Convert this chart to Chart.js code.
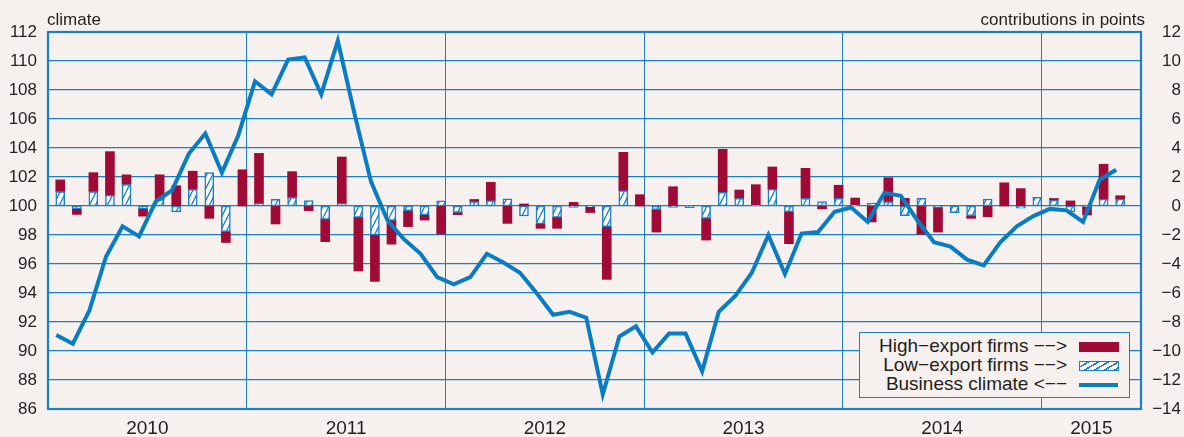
<!DOCTYPE html>
<html>
<head>
<meta charset="utf-8">
<script src="https://cdn.jsdelivr.net/npm/chart.js@4"></script>
<style>
  body { margin: 0; background: #f6f0ee; }
  #wrap { position: relative; width: 1184px; height: 437px; font-family: 'Liberation Sans', Arial, sans-serif; color: #231f20; }
  .axisTitle { position: absolute; top: 11px; font-size: 17px; line-height: 17px; white-space: nowrap; }
  #legendBox { position: absolute; left: 859px; top: 332px; width: 271px; height: 66px; box-sizing: border-box;
               border: 1.3px solid #1b7fc4; background: #f6f0ee; }
  .legText { position: absolute; right: 117px; font-size: 19px; line-height: 19px; white-space: nowrap; }
  .sw { position: absolute; left: 1079px; width: 40px; box-sizing: border-box; }
</style>
</head>
<body>
<div id="wrap">
  <canvas id="chart" width="1184" height="437"></canvas>
  <div class="axisTitle" style="left:47px">climate</div>
  <div class="axisTitle" style="right:39px">contributions in points</div>
  <div id="legendBox"></div>
  <div class="legText" style="top:336px">High&minus;export firms &minus;&minus;&gt;</div>
  <div class="legText" style="top:355px">Low&minus;export firms &minus;&minus;&gt;</div>
  <div class="legText" style="top:374px">Business climate &lt;&minus;&minus;</div>
  <div class="sw" style="top:342px;height:10px;background:#a00a37"></div>
  <div class="sw" style="top:361px;height:10px;border:1.5px solid #1b7fc4;background:repeating-linear-gradient(150deg,#fff 0 3.5px,#1b7fc4 3.5px 5px)"></div>
  <div class="sw" style="top:382.5px;height:4px;width:39px;background:#0a7dc2"></div>
</div>
<script>
// monthly, Jan 2010 .. May 2015
const years = ['2010', '2011', '2012', '2013', '2014', '2015'];

const climate = [
  91.1, 90.5, 92.8, 96.5, 98.6, 97.9, 100.3, 101.1, 103.6, 105.0, 102.3, 104.9,
  108.6, 107.7, 110.1, 110.25, 107.7, 111.4, 106.4, 101.7, 99.0, 97.7, 96.7, 95.1,
  94.6, 95.1, 96.7, 96.1, 95.4, 94.0, 92.5, 92.7, 92.3, 87.0, 91.0, 91.7,
  89.9, 91.2, 91.2, 88.6, 92.7, 93.8, 95.4, 98.0, 95.3, 98.1, 98.2, 99.6,
  99.9, 98.9, 100.9, 100.7, 99.0, 97.5, 97.2, 96.3, 95.9, 97.5, 98.6, 99.3,
  99.8, 99.7, 98.9, 101.8, 102.5
];

const lowExport = [
  1.0, -0.2, 1.0, 0.75, 1.5, -0.2, 0.45, -0.4, 1.15, 2.3, -1.77, 0.0,
  0.18, 0.46, 0.6, 0.37, -0.92, 0.18, -0.78, -2.0, -1.0, -0.32, -0.62, 0.35,
  -0.45, 0.3, 0.37, 0.5, -0.69, -1.24, -0.78, -0.1, -0.05, -1.43, 1.06, 0.0,
  -0.25, -0.1, -0.1, -0.85, 0.94, 0.53, 0.07, 1.17, -0.4, 0.53, 0.3, 0.53,
  0.05, 0.2, 0.3, -0.67, 0.53, -0.1, -0.46, -0.67, 0.48, 0.0, -0.15, 0.6,
  0.4, -0.4, -0.05, 0.48, 0.48
];

const highExport = [
  0.8, -0.38, 1.3, 3.0, 0.65, -0.5, 1.7, 1.4, 1.25, -0.85, -0.75, 2.5,
  3.45, -1.24, 1.77, -0.32, -1.54, 3.2, -3.7, -3.2, -1.63, -1.1, -0.35, -1.93,
  -0.15, 0.15, 1.26, -1.2, 0.14, -0.3, -0.76, 0.25, -0.4, -3.63, 2.64, 0.78,
  -1.55, 1.33, 0.0, -1.5, 2.97, 0.57, 1.4, 1.52, -2.2, 2.07, -0.2, 0.9,
  0.5, -1.1, 1.65, 0.53, -1.95, -1.7, 0.0, -0.18, -0.74, 1.6, 1.2, 0.0,
  0.12, 0.35, -0.57, 2.4, 0.23
];

const leftTicks = [86, 112];
const rightTicks = [-14, 12];

const BLUE = '#0a7dc2';
const GRID = '#1b7fc4';
const RED = '#a00a37';
const TXT = '#231f20';
const BAR_SHIFT = 0.24; // bars sit a little right of the month point

Chart.defaults.font.family = "'Liberation Sans', Arial, sans-serif";
Chart.defaults.color = TXT;

const xMax = climate.length + 0.5;
const yearEdges = years.slice(1).map((y, k) => (k + 1) * 12 - 0.5);
const yearCenters = years.map((y, k) => (k * 12 - 0.5 + Math.min(k * 12 + 11.5, xMax)) / 2);

function makeHatch() {
  const c = document.createElement('canvas');
  c.width = 6; c.height = 12;
  const g = c.getContext('2d');
  g.fillStyle = '#fff';
  g.fillRect(0, 0, 6, 12);
  g.strokeStyle = GRID;
  g.lineWidth = 1.3;
  g.beginPath();
  [-6, 0, 6].forEach(dx => { g.moveTo(dx, 12); g.lineTo(dx + 6, 0); });
  g.stroke();
  return g.createPattern(c, 'repeat');
}

const frame = {
  id: 'frame',
  beforeDatasetsDraw(chart) {
    const { ctx, chartArea: a } = chart;
    ctx.save();
    ctx.strokeStyle = GRID;
    ctx.lineWidth = 2.2;
    ctx.strokeRect(a.left, a.top, a.right - a.left, a.bottom - a.top);
    ctx.restore();
  }
};

new Chart(document.getElementById('chart'), {
  type: 'bar',
  data: {
    datasets: [
      {
        type: 'line',
        label: 'Business climate',
        data: climate.map((v, i) => ({ x: i, y: v })),
        yAxisID: 'y',
        borderColor: BLUE,
        borderWidth: 4,
        pointRadius: 0,
        tension: 0,
        order: 0
      },
      {
        label: 'Low-export firms',
        data: lowExport.map((v, i) => ({ x: i + BAR_SHIFT, y: v })),
        yAxisID: 'y2',
        backgroundColor: makeHatch(),
        borderColor: GRID,
        borderWidth: 1.5,
        borderSkipped: false,
        barThickness: 9,
        order: 1
      },
      {
        label: 'High-export firms',
        data: highExport.map((v, i) => ({ x: i + BAR_SHIFT, y: v })),
        yAxisID: 'y2',
        backgroundColor: RED,
        borderWidth: 0,
        barThickness: 9,
        order: 2
      }
    ]
  },
  options: {
    responsive: false,
    animation: false,
    layout: { padding: { top: 32, right: 3, left: 0, bottom: 0 } },
    plugins: { legend: { display: false }, tooltip: { enabled: false } },
    scales: {
      x: {
        type: 'linear',
        min: -0.5,
        max: xMax,
        stacked: true,
        offset: false,
        afterBuildTicks: s => {
          s.ticks = yearEdges.concat(yearCenters).sort((a, b) => a - b).map(v => ({ value: v }));
        },
        ticks: {
          autoSkip: false,
          maxRotation: 0,
          padding: 8,
          font: { size: 19 },
          color: TXT,
          callback: v => {
            const k = yearCenters.indexOf(v);
            return k >= 0 ? years[k] : '';
          }
        },
        grid: {
          offset: false,
          drawTicks: false,
          lineWidth: 1,
          color: ctx => (ctx.tick && yearEdges.includes(ctx.tick.value)) ? GRID : 'rgba(0,0,0,0)'
        },
        border: { display: false },
        afterFit: s => { s.height = 28; }
      },
      y: {
        position: 'left',
        min: leftTicks[0],
        max: leftTicks[1],
        ticks: { stepSize: 2, padding: 11, font: { size: 17 }, color: TXT },
        grid: { color: GRID, lineWidth: 1.2, drawTicks: false },
        border: { display: false },
        afterFit: s => { s.width = 48; }
      },
      y2: {
        position: 'right',
        min: rightTicks[0],
        max: rightTicks[1],
        stacked: true,
        ticks: {
          stepSize: 2,
          crossAlign: 'far',
          font: { size: 17 },
          color: TXT,
          callback: v => v < 0 ? '\u2212' + Math.abs(v) : String(v)
        },
        grid: { display: false },
        border: { display: false },
        afterFit: s => { s.width = 40; }
      }
    }
  },
  plugins: [frame]
});
</script>
</body>
</html>
